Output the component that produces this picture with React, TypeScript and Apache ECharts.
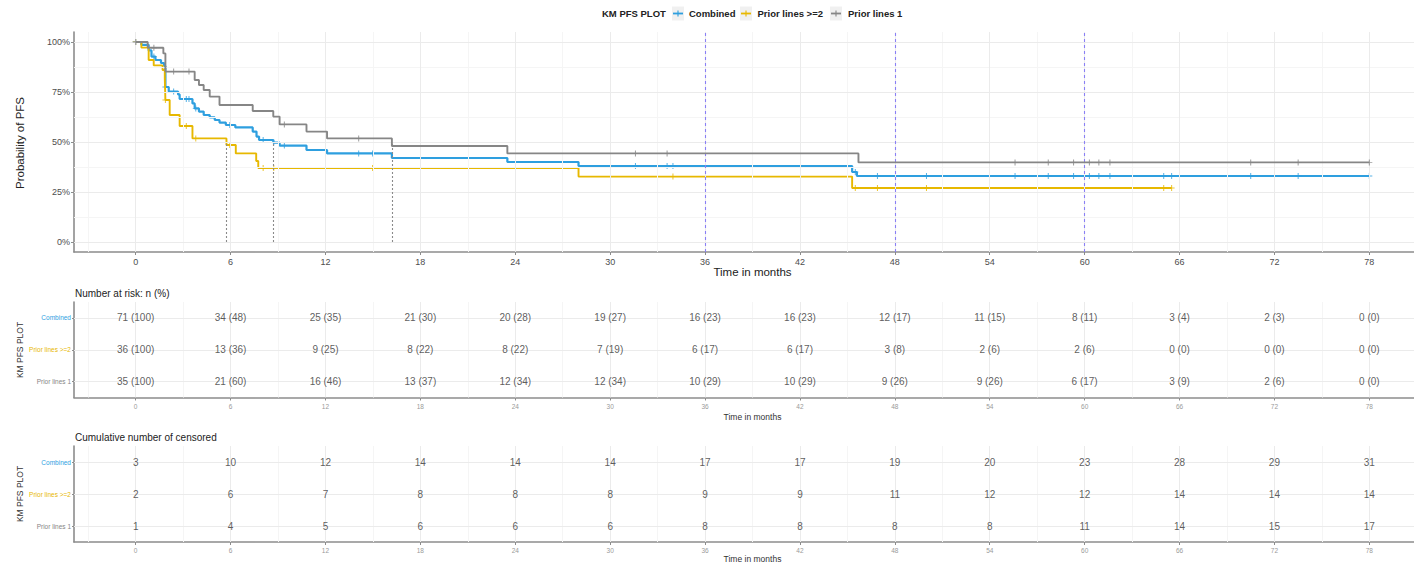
import React, { useEffect, useRef } from "react";
import * as echarts from "echarts";

// ---- groups ----
const groupNames = ["Combined", "Prior lines >=2", "Prior lines 1"];
const groupColors = ["#2E9FDF", "#E7B800", "#868686"];
// table rows from bottom to top
const tableRows = ["Prior lines 1", "Prior lines >=2", "Combined"];

// ---- Kaplan-Meier step points: [month, PFS %] ----
const combinedSteps: number[][] = [
  [0, 100], [0.36, 98.6], [0.82, 95.8], [1.0, 92.7], [1.25, 91.0], [1.6, 89.5],
  [1.8, 88.0], [1.88, 77.5], [2.09, 75.2], [2.68, 73.8], [2.78, 71.5], [3.59, 69.3],
  [3.73, 66.8], [4.0, 65.2], [4.3, 63.5], [4.68, 62.3], [5.0, 61.0], [5.3, 59.7],
  [5.7, 58.5], [6.3, 57.3], [7.4, 55.2], [7.64, 52.7], [7.8, 51.0], [8.7, 49.7],
  [9.1, 48.2], [10.8, 46.0], [12.1, 44.3], [16.2, 42.0], [23.5, 40.0], [28.0, 38.0],
  [45.3, 35.0], [45.6, 33.0], [78.0, 33.0],
];
const priorTwoSteps: number[][] = [
  [0, 100], [0.36, 97.2], [0.82, 91.0], [1.14, 88.3], [1.7, 86.0], [1.84, 81.8],
  [1.88, 71.0], [2.15, 63.5], [2.78, 58.0], [3.59, 51.8], [5.74, 48.5], [6.33, 44.3],
  [7.62, 40.5], [7.75, 37.0], [28.0, 32.7], [45.3, 27.0], [65.5, 27.0],
];
const priorOneSteps: number[][] = [
  [0, 100], [0.76, 97.1], [1.75, 94.3], [1.88, 85.2], [3.73, 81.0], [4.0, 78.5],
  [4.3, 76.0], [4.68, 72.7], [5.3, 68.5], [7.4, 65.5], [8.7, 62.7], [9.1, 58.8],
  [10.8, 55.2], [12.1, 51.8], [16.2, 48.0], [23.5, 44.3], [45.7, 39.8], [78.0, 39.8],
];

// ---- censoring times (months) ----
const combinedCensored = [
  0, 1.15, 1.88, 2.4, 3.2, 3.37, 3.8, 5.95, 8.06, 8.73, 9.4, 14.1, 14.98, 31.6, 33.6,
  33.97, 45.5, 46.9, 50.0, 55.6, 57.7, 59.3, 60.3, 60.9, 61.6, 65.0, 65.5, 70.5, 73.5, 78.0,
];
const priorTwoCensored = [0, 1.88, 3.2, 3.8, 5.95, 8.06, 8.73, 14.98, 33.97, 45.5, 46.9, 50.0, 65.0, 65.5];
const priorOneCensored = [
  0, 1.15, 2.4, 3.37, 9.4, 14.1, 31.6, 33.6, 55.6, 57.7, 59.3, 60.3, 60.9, 61.6, 70.5, 73.5, 78.0,
];

// median PFS per group (months)
const medianMonths = [8.7, 5.74, 16.2];
// landmark reference lines
const landmarkMonths = [36, 48, 60];

// ---- axes ----
const monthTicks = [0, 6, 12, 18, 24, 30, 36, 42, 48, 54, 60, 66, 72, 78];
const monthMinor = [-3, 3, 9, 15, 21, 27, 33, 39, 45, 51, 57, 63, 69, 75, 81];
const pfsTicks = [0, 25, 50, 75, 100];
const pfsMinor = [12.5, 37.5, 62.5, 87.5];

// ---- number at risk ----
const riskCombinedN = [71, 34, 25, 21, 20, 19, 16, 16, 12, 11, 8, 3, 2, 0];
const riskCombinedPct = [100, 48, 35, 30, 28, 27, 23, 23, 17, 15, 11, 4, 3, 0];
const riskPriorTwoN = [36, 13, 9, 8, 8, 7, 6, 6, 3, 2, 2, 0, 0, 0];
const riskPriorTwoPct = [100, 36, 25, 22, 22, 19, 17, 17, 8, 6, 6, 0, 0, 0];
const riskPriorOneN = [35, 21, 16, 13, 12, 12, 10, 10, 9, 9, 6, 3, 2, 0];
const riskPriorOnePct = [100, 60, 46, 37, 34, 34, 29, 29, 26, 26, 17, 9, 6, 0];

// ---- cumulative number censored ----
const censCombined = [3, 10, 12, 14, 14, 14, 17, 17, 19, 20, 23, 28, 29, 31];
const censPriorTwo = [2, 6, 7, 8, 8, 8, 9, 9, 11, 12, 12, 14, 14, 14];
const censPriorOne = [1, 4, 5, 6, 6, 6, 8, 8, 8, 8, 11, 14, 15, 17];

const FONT = "'Liberation Sans', Arial, Helvetica, sans-serif";
const AXIS_GREY = "#8c8c8c";
const MAJOR = "#ebebeb";
const MINOR = "#f5f5f5";
const X_MIN = -3.9;
const X_MAX = 81.9;

const PLUS =
  "path://M-1,-0.15L1,-0.15L1,0.15L-1,0.15ZM-0.17,-1L0.17,-1L0.17,1L-0.17,1Z";

function survivalAt(steps: number[][], t: number) {
  let s = steps[0][1];
  for (const [x, y] of steps) if (x <= t) s = y;
  return s;
}

function gridLines(yMajor: (number | string)[], yMinor: number[]) {
  const d: any[] = [];
  monthMinor.forEach((v) => d.push({ xAxis: v, lineStyle: { color: MINOR, width: 1, type: "solid" } }));
  yMinor.forEach((v) => d.push({ yAxis: v, lineStyle: { color: MINOR, width: 1, type: "solid" } }));
  monthTicks.forEach((v) => d.push({ xAxis: v, lineStyle: { color: MAJOR, width: 1, type: "solid" } }));
  yMajor.forEach((v) => d.push({ yAxis: v, lineStyle: { color: MAJOR, width: 1, type: "solid" } }));
  return d;
}

function xAxisFor(gridIndex: number, fontSize: number, color: string) {
  return {
    type: "value",
    gridIndex,
    min: X_MIN,
    max: X_MAX,
    axisLine: { show: true, onZero: false, lineStyle: { color: AXIS_GREY, width: 1.6 } },
    axisTick: { show: true, customValues: monthTicks, length: 3, lineStyle: { color: AXIS_GREY } },
    axisLabel: { customValues: monthTicks, fontSize, color, fontFamily: FONT, margin: 5 },
    splitLine: { show: false },
  };
}

function tableYAxis(gridIndex: number) {
  return {
    type: "category",
    gridIndex,
    data: tableRows,
    axisLine: { show: true, onZero: false, lineStyle: { color: AXIS_GREY, width: 1.6 } },
    axisTick: { show: true, alignWithLabel: true, length: 2, lineStyle: { color: AXIS_GREY } },
    axisLabel: {
      margin: 3,
      fontFamily: FONT,
      formatter: (v: string) => `{g${groupNames.indexOf(v)}|${v}}`,
      rich: {
        g0: { color: groupColors[0], fontSize: 6.5, fontFamily: FONT },
        g1: { color: groupColors[1], fontSize: 6.5, fontFamily: FONT },
        g2: { color: groupColors[2], fontSize: 6.5, fontFamily: FONT },
      },
    },
    splitLine: { show: false },
  };
}

function textSeries(idx: number, rows: { name: string; labels: string[] }[]) {
  const data: any[] = [];
  rows.forEach((r) => r.labels.forEach((lab, i) => data.push([monthTicks[i], r.name, lab])));
  return {
    type: "scatter",
    xAxisIndex: idx,
    yAxisIndex: idx,
    symbolSize: 0,
    silent: true,
    z: 5,
    data,
    label: {
      show: true,
      position: "inside",
      formatter: (p: any) => p.data[2],
      fontSize: 10,
      color: "#333",
      fontFamily: FONT,
    },
  };
}

export default function App() {
  const ref = useRef<HTMLDivElement>(null);

  useEffect(() => {
    if (!ref.current) return;
    const chart = echarts.init(ref.current, undefined, { renderer: "svg" });

    const steps = [combinedSteps, priorTwoSteps, priorOneSteps];
    const censored = [combinedCensored, priorTwoCensored, priorOneCensored];

    const curveSeries = steps.map((s, i) => ({
      name: groupNames[i],
      type: "line",
      step: "end",
      xAxisIndex: 0,
      yAxisIndex: 0,
      data: s,
      showSymbol: false,
      symbol: "none",
      z: 3 + i,
      lineStyle: { color: groupColors[i], width: i === 0 ? 2.2 : 1.9 },
      silent: true,
    }));
    const censorSeries = censored.map((c, i) => ({
      type: "scatter",
      xAxisIndex: 0,
      yAxisIndex: 0,
      symbol: PLUS,
      symbolSize: 6,
      z: 3 + i,
      itemStyle: { color: groupColors[i] },
      data: c.map((t) => [t, survivalAt(steps[i], t)]),
      silent: true,
    }));

    const fmt = (n: number[], p: number[]) => n.map((v, i) => `${v} (${p[i]})`);
    const riskRows = [
      { name: "Combined", labels: fmt(riskCombinedN, riskCombinedPct) },
      { name: "Prior lines >=2", labels: fmt(riskPriorTwoN, riskPriorTwoPct) },
      { name: "Prior lines 1", labels: fmt(riskPriorOneN, riskPriorOnePct) },
    ];
    const censRows = [
      { name: "Combined", labels: censCombined.map(String) },
      { name: "Prior lines >=2", labels: censPriorTwo.map(String) },
      { name: "Prior lines 1", labels: censPriorOne.map(String) },
    ];

    const background = (idx: number, yMajor: (number | string)[], yMinor: number[]) => ({
      type: "line",
      xAxisIndex: idx,
      yAxisIndex: idx,
      data: [],
      z: 0,
      silent: true,
      markLine: {
        silent: true,
        symbol: ["none", "none"],
        label: { show: false },
        data: gridLines(yMajor, yMinor),
      },
    });

    // Legend drawn as graphic: title + key boxes
    const keyX = [672, 740, 830];
    const keyTextX = [689, 757.5, 848];
    const legendGraphic: any[] = [
      {
        type: "text",
        x: 602,
        y: 13.5,
        style: {
          text: "KM PFS PLOT",
          font: `bold 9.5px ${FONT}`,
          fill: "#222",
          verticalAlign: "middle",
          align: "left",
        },
      },
    ];
    groupNames.forEach((g, i) => {
      const kx = keyX[i];
      legendGraphic.push(
        { type: "rect", shape: { x: kx, y: 6.5, width: 12, height: 14 }, style: { fill: "#f0f0f0" } },
        { type: "line", shape: { x1: kx + 1, y1: 13.5, x2: kx + 11, y2: 13.5 }, style: { stroke: groupColors[i], lineWidth: 1.8 } },
        { type: "line", shape: { x1: kx + 6, y1: 10.5, x2: kx + 6, y2: 16.5 }, style: { stroke: groupColors[i], lineWidth: 1.1 } },
        {
          type: "text",
          x: keyTextX[i],
          y: 13.5,
          style: { text: g, font: `bold 9.5px ${FONT}`, fill: "#222", verticalAlign: "middle", align: "left" },
        }
      );
    });

    const titles: any[] = [
      {
        type: "text",
        x: 20,
        y: 143,
        rotation: Math.PI / 2,
        style: { text: "Probability of PFS", font: `11.5px ${FONT}`, fill: "#222", align: "center", verticalAlign: "middle" },
      },
      {
        type: "text",
        x: 752.5,
        y: 272,
        style: { text: "Time in months", font: `11.5px ${FONT}`, fill: "#222", align: "center", verticalAlign: "middle" },
      },
      {
        type: "text",
        x: 75,
        y: 293.5,
        style: { text: "Number at risk: n (%)", font: `10px ${FONT}`, fill: "#222", align: "left", verticalAlign: "middle" },
      },
      {
        type: "text",
        x: 20,
        y: 350,
        rotation: Math.PI / 2,
        style: { text: "KM PFS PLOT", font: `8.5px ${FONT}`, fill: "#333", align: "center", verticalAlign: "middle" },
      },
      {
        type: "text",
        x: 752.5,
        y: 417,
        style: { text: "Time in months", font: `8.5px ${FONT}`, fill: "#333", align: "center", verticalAlign: "middle" },
      },
      {
        type: "text",
        x: 75,
        y: 437,
        style: { text: "Cumulative number of censored", font: `10px ${FONT}`, fill: "#222", align: "left", verticalAlign: "middle" },
      },
      {
        type: "text",
        x: 20,
        y: 494,
        rotation: Math.PI / 2,
        style: { text: "KM PFS PLOT", font: `8.5px ${FONT}`, fill: "#333", align: "center", verticalAlign: "middle" },
      },
      {
        type: "text",
        x: 752.5,
        y: 559,
        style: { text: "Time in months", font: `8.5px ${FONT}`, fill: "#333", align: "center", verticalAlign: "middle" },
      },
    ];

    const option: any = {
      animation: false,
      backgroundColor: "#ffffff",
      textStyle: { fontFamily: FONT },
      grid: [
        { left: 74, top: 32, width: 1357, height: 220, outerBoundsMode: "none" },
        { left: 74, top: 302, width: 1357, height: 95.5, outerBoundsMode: "none" },
        { left: 74, top: 446, width: 1357, height: 96, outerBoundsMode: "none" },
      ],
      xAxis: [
        xAxisFor(0, 9, "#4d4d4d"),
        xAxisFor(1, 6.5, "#9a9a9a"),
        xAxisFor(2, 6.5, "#9a9a9a"),
      ],
      yAxis: [
        {
          type: "value",
          gridIndex: 0,
          min: -5,
          max: 105,
          axisLine: { show: true, onZero: false, lineStyle: { color: AXIS_GREY, width: 1.6 } },
          axisTick: { show: true, customValues: pfsTicks, length: 3, lineStyle: { color: AXIS_GREY } },
          axisLabel: {
            customValues: pfsTicks,
            formatter: (v: number) => `${v}%`,
            fontSize: 9,
            color: "#4d4d4d",
            fontFamily: FONT,
            margin: 4,
          },
          splitLine: { show: false },
        },
        tableYAxis(1),
        tableYAxis(2),
      ],
      graphic: [...legendGraphic, ...titles],
      series: [
        background(0, pfsTicks, pfsMinor),
        background(1, tableRows, []),
        background(2, tableRows, []),
        {
          type: "line",
          xAxisIndex: 0,
          yAxisIndex: 0,
          data: [],
          z: 1,
          silent: true,
          markLine: {
            silent: true,
            symbol: ["none", "none"],
            label: { show: false },
            data: [
              ...landmarkMonths.map((m) => ({
                xAxis: m,
                lineStyle: { color: "#8a80f5", width: 1.1, type: [3, 3] },
              })),
              ...medianMonths.map((m) => [
                { coord: [m, 0], lineStyle: { color: "#8a8a8a", width: 1.1, type: [2, 2] } },
                { coord: [m, 50] },
              ]),
            ],
          },
        },
        ...curveSeries,
        ...censorSeries,
        textSeries(1, riskRows),
        textSeries(2, censRows),
      ],
    };

    chart.setOption(option);
    return () => chart.dispose();
  }, []);

  return (
    <div
      ref={ref}
      style={{ position: "fixed", left: 0, top: 0, width: 1414, height: 568, background: "#fff" }}
    />
  );
}
